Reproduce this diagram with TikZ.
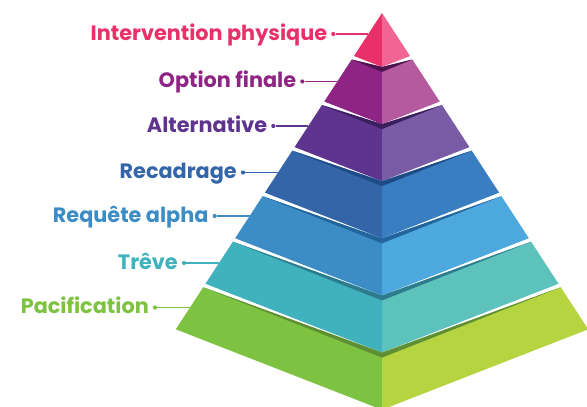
\documentclass[tikz,border=0pt]{standalone}
\usepackage{fontspec}
\setmainfont{Poppins}
\usetikzlibrary{calc}

\definecolor{lf1}{HTML}{E8306A}\definecolor{rf1}{HTML}{F06593}
\definecolor{lf2}{HTML}{8E2585}\definecolor{rf2}{HTML}{B55A9E}
\definecolor{lf3}{HTML}{5E348F}\definecolor{rf3}{HTML}{7A5BA5}
\definecolor{lf4}{HTML}{3465A8}\definecolor{rf4}{HTML}{387EC0}
\definecolor{lf5}{HTML}{3C8CC5}\definecolor{rf5}{HTML}{4DA8DD}
\definecolor{lf6}{HTML}{40B2BE}\definecolor{rf6}{HTML}{5EC2BC}
\definecolor{lf7}{HTML}{7DC240}\definecolor{rf7}{HTML}{B5D43F}
\definecolor{sh2}{HTML}{4D1450}
\definecolor{sh3}{HTML}{3A1E5E}
\definecolor{sh4}{HTML}{1F4C86}
\definecolor{sh5}{HTML}{22649C}
\definecolor{sh6}{HTML}{2C7C8E}
\definecolor{sh7}{HTML}{5E8F35}

\begin{document}
\begin{tikzpicture}[x=1pt,y=-1pt,
  lab/.style={font=\fontsize{20.8}{24}\selectfont\bfseries, anchor=base east, inner sep=0pt},
  dot/.style={circle, inner sep=0pt, minimum size=4.2pt},
  lead/.style={line width=1.3pt}]
\useasboundingbox (0,0) rectangle (587,407);

% layers, top to bottom
\foreach \k/\ly/\txt in {1/34/Intervention physique, 2/81.5/Option finale,
    3/126/Alternative, 4/172.5/Recadrage, 5/216/Requête alpha,
    6/263/Trêve, 7/307.5/Pacification}{
  \pgfmathsetmacro\b{56+(\k-1)*45.55}
  \pgfmathsetmacro\t{\k==1 ? 13 : \b-42.05}
  \pgfmathsetmacro\c{\b+0.2543*(\b-13)}
  \pgfmathsetmacro\pb{\b-45.55}
  \pgfmathsetmacro\cp{\k==1 ? 13 : \pb+0.2543*(\pb-13)}
  \pgfmathsetmacro\xlt{382-0.652*(\t-13)}
  \pgfmathsetmacro\xrt{382+0.652*(\t-13)}
  \pgfmathsetmacro\xlb{382-0.652*(\b-13)}
  \pgfmathsetmacro\xrb{382+0.652*(\b-13)}
  \fill[lf\k] (\xlt,\t) -- (\xlb,\b) -- (382,\c) -- (382,\cp) -- cycle;
  \fill[rf\k] (382,\cp) -- (382,\c) -- (\xrb,\b) -- (\xrt,\t) -- cycle;
  \ifnum\k>1
    \fill[sh\k] (\xlt,\t) -- (382,\cp+5) -- (\xrt,\t) -- (382,\cp) -- cycle;
  \fi
  % label
  \pgfmathsetmacro\xe{382-0.652*(\ly-13)}
  \coordinate (e\k) at (\xe,\ly);
  \node[dot, fill=lf\k] (d\k) at (\xe-35,\ly) {};
  \node[lab, text=lf\k] (l\k) at (\xe-41,\ly+6) {\txt};
  \draw[lead, lf\k] (d\k) -- (e\k);
}
\end{tikzpicture}
\end{document}
